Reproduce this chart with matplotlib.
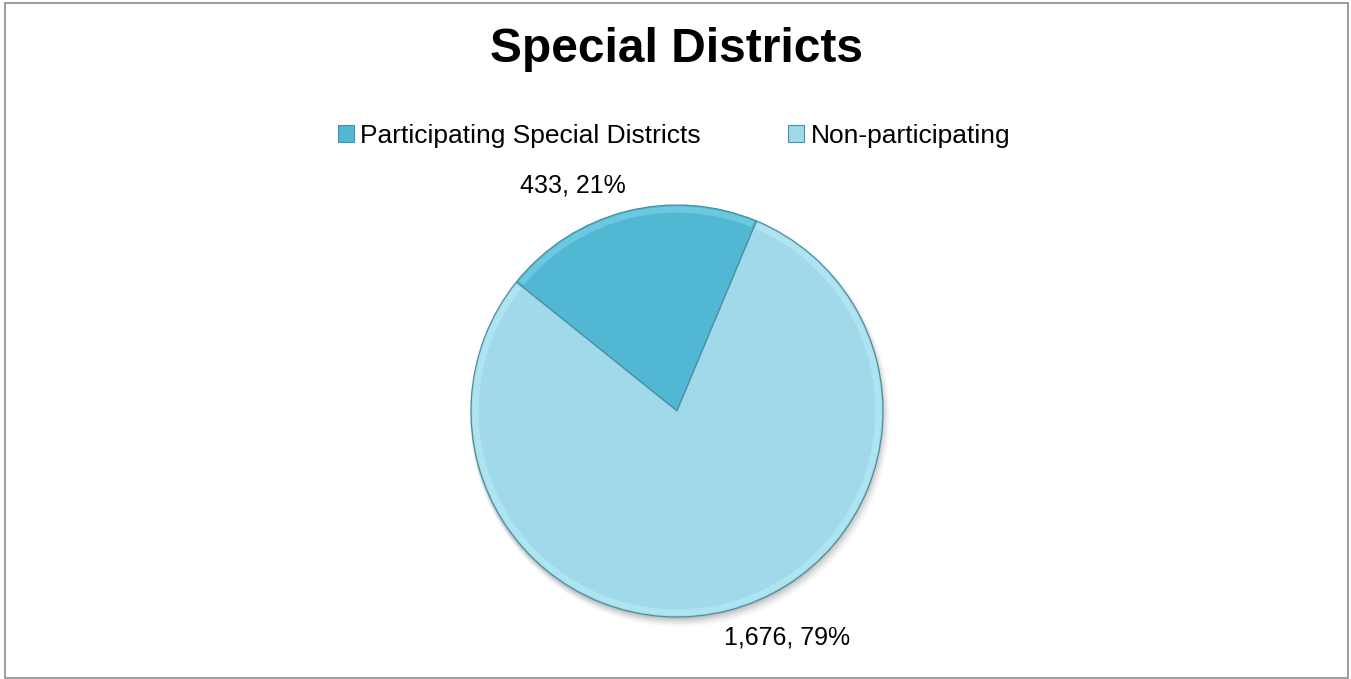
import matplotlib
matplotlib.use("Agg")
import matplotlib.pyplot as plt
from matplotlib.patches import Patch, Wedge, Circle, Rectangle
import numpy as np

plt.rcParams['font.family'] = ['Liberation Sans', 'DejaVu Sans']

title = "Special Districts"
categories = ["Participating Special Districts", "Non-participating"]
values = [433, 1676]
colors = ["#52B7D3", "#A0DAEA"]
rim_colors = ["#7FD3EA", "#B8EAF5"]

W, H = 1351, 679
fig = plt.figure(figsize=(W / 100, H / 100), dpi=100)
fig.patch.set_facecolor("white")

# border
fig.add_artist(Rectangle((4.5 / W, 1.5 / H), (W - 8) / W, (H - 4) / H,
                         transform=fig.transFigure, fill=False,
                         edgecolor="#8C8C8C", linewidth=1.2))

fig.text(677 / W, 1 - 49 / H, title, ha="center", va="center",
         fontsize=34.5, fontweight="bold", color="black")

cx, cy, r = 677, 411, 206
ax = fig.add_axes([(cx - r) / W, (H - cy - r) / H, 2 * r / W, 2 * r / H])
ax.set_xlim(-1, 1)
ax.set_ylim(-1, 1)
ax.set_aspect("equal")
ax.axis("off")

# soft shadow
for i, a in enumerate(np.linspace(0.10, 0.02, 6)):
    ax.add_patch(Circle((0.003 * i, -0.010 - 0.004 * i), 1.0 + 0.004 * i,
                        facecolor="#404040", edgecolor="none", alpha=a,
                        zorder=0, clip_on=False))

wedges, _ = ax.pie(values, colors=colors, startangle=67.3, counterclock=True,
                   radius=1.0, wedgeprops=dict(edgecolor="#4A8FA2", linewidth=0.9),
                   frame=False)
for w in wedges:
    w.set_zorder(2)
    w.set_clip_on(False)

# bevel highlight rim along the outer edge
for w, rc in zip(wedges, rim_colors):
    t1, t2 = w.theta1, w.theta2
    ax.add_patch(Wedge((0, 0), 0.993, t1 + 0.6, t2 - 0.6, width=0.03,
                       facecolor=rc, edgecolor="none", alpha=0.6, zorder=3,
                       clip_on=False))

ax.set_xlim(-1, 1)
ax.set_ylim(-1, 1)

total = sum(values)
label_pos = [(-104 / r, 226 / r), (110 / r, -226 / r)]
for v, (lx, ly) in zip(values, label_pos):
    pct = round(100 * v / total)
    ax.text(lx, ly, f"{v:,}, {pct}%", ha="center", va="center",
            fontsize=18, color="black", clip_on=False)

handles = [Patch(facecolor=c, edgecolor="#4A8FA2", linewidth=0.8) for c in colors]
fig.legend(handles, categories, loc="center", bbox_to_anchor=(674 / W, 1 - 136 / H),
           ncol=2, frameon=False, fontsize=19, handlelength=0.6, handleheight=0.6,
           handletextpad=0.25, columnspacing=3.3)

fig.savefig("out.png", dpi=100, facecolor="white")
